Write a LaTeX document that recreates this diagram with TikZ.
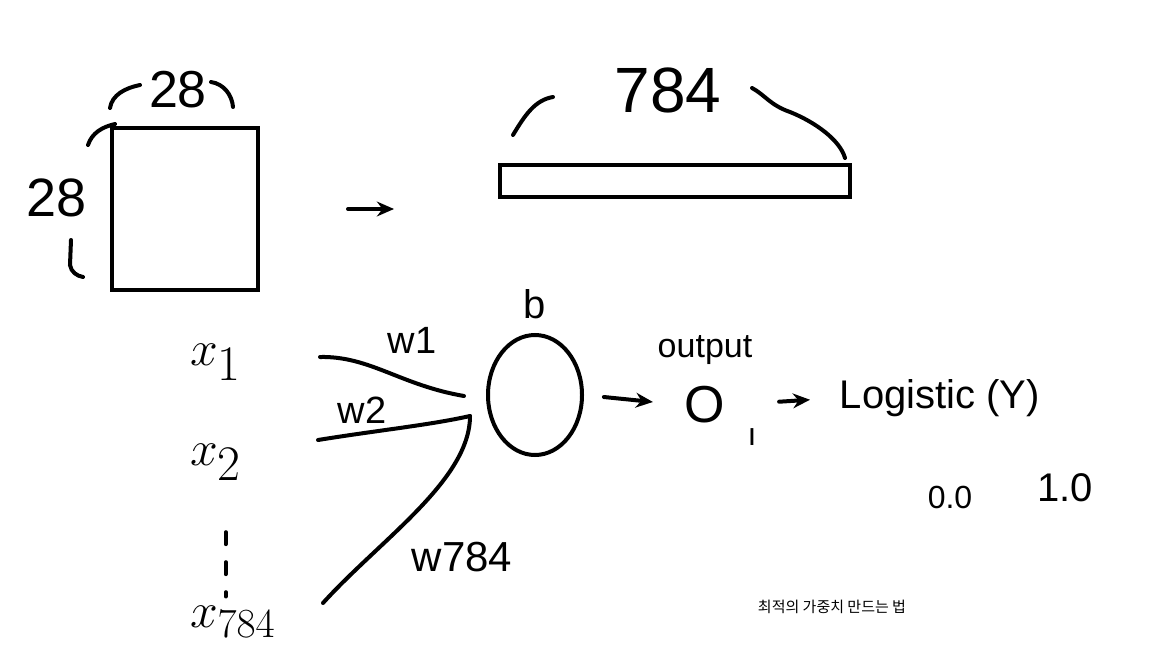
\documentclass[tikz,border=0pt]{standalone}
\usepackage{fontspec}
\setmainfont{Liberation Sans}
\newfontfamily\krfont{Noto Sans CJK KR}
\usetikzlibrary{positioning, arrows.meta, shapes.geometric}

\begin{document}
\begin{tikzpicture}[x=0.5pt,y=-0.5pt,line width=2pt,line cap=round,>={Stealth[length=3mm,width=2.6mm]},
  hand/.style={inner sep=0pt,font=\fontsize{#1}{#1}\selectfont},
  brace/.style={line width=2pt}]
  \useasboundingbox (0,0) rectangle (1152,648);
  % picture and flattened vector
  \node[draw,minimum width=73pt,minimum height=81pt,inner sep=0pt](img) at (185,209){};
  \node[draw,minimum width=175pt,minimum height=16pt,inner sep=0pt](bar) at (675,181){};
  \node[hand=26](top) at (178,90){28};\node[hand=27](side) at (57,198){28};
  \node[hand=32](len) at (668,90){784};
  \draw[brace](110,108) .. controls (112,95) and (125,88) .. (140,85);
  \draw[brace](211,82) .. controls (224,84) and (232,95) .. (233,107);
  \draw[brace](88,145) .. controls (92,133) and (102,127) .. (115,124);
  \draw[brace](71,240) -- (70,265) .. controls (71,272) and (77,276) .. (83,277);
  \draw[brace](513,135) .. controls (525,115) and (535,100) .. (553,97);
  \draw[brace](752,88) .. controls (765,95) and (770,105) .. (790,112) .. controls (815,122) and (840,140) .. (845,158);
  \draw[->,shorten <=44pt,shorten >=52pt](img.east) -- (img.east -| bar.west);
  % inputs, weights and neuron
  \node[hand=34,anchor=west](x1) at (188,362){$x_1$};
  \node[hand=34,anchor=west](x2) at (188,462){$x_2$};
  \node[hand=30,anchor=west](x784) at (188,622){$x_{784}$};
  \draw[dash pattern=on 6pt off 9pt,shorten <=25pt,shorten >=4pt]([xshift=5pt]x2.south) -- ([xshift=5pt]x2.south |- x784.north);
  \node[draw,ellipse,minimum width=47pt,minimum height=60pt](nrn) at (535,395){};
  \node[hand=20,above=6pt of nrn](bias){b};
  \coordinate(in1) at (320,357);\coordinate(in2) at (318,440);\coordinate(in3) at (323,603);
  \draw(in1) .. controls (370,356) and (400,385) .. ([shift={(-22,1)}]nrn.west);
  \draw(in2) .. controls (380,430) and (430,425) .. ([shift={(-16,21)}]nrn.west);
  \draw(in3) .. controls (380,540) and (470,480) .. ([shift={(-16,21)}]nrn.west);
  \node[hand=19](w1) at (412,340){w1};\node[hand=19](w2) at (362,410){w2};
  \node[hand=21](w784) at (462,557){w784};
  % output side
  \node[hand=26](out) at (705,405){O};\node[hand=17,above=9pt of out](outlbl){output};
  \node[hand=16](tick) at (752,437){ı};
  \node[hand=20](logi) at (940,398){Logistic (Y)};
  \draw[->,shorten <=10pt,shorten >=15pt](nrn.east) -- (out.west);
  \draw[->,shorten <=26pt,shorten >=14pt](out.east) -- (logi.west);
  \node[hand=16](lo) at (950,497){0.0};\node[hand=20](hi) at (1065,488){1.0};
  \node[font=\krfont\fontsize{7.5}{9}\selectfont](note) at (832,607){최적의 가중치 만드는 법};
\end{tikzpicture}
\end{document}
